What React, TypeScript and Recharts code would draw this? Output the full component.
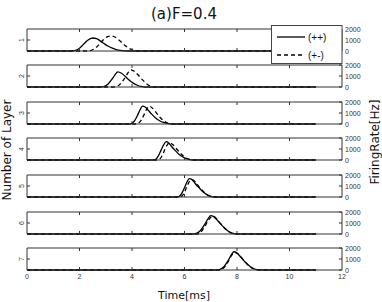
import { LineChart, Line, XAxis, YAxis } from 'recharts';

const layerNames = ['1', '2', '3', '4', '5', '6', '7'];
const timeTicks = [0, 2, 4, 6, 8, 10, 12];
const innerTimeTicks = [2, 4, 6, 8, 10];
const rateTicks = [0, 1000, 2000];
const layerTick = [1000];

// (++) solid curves
const ppTime = [
  [0, 1.7, 1.85, 2.0, 2.15, 2.3, 2.5, 2.65, 2.8, 2.95, 3.1, 3.25, 3.4, 3.55, 3.7, 3.85, 11],
  [0, 2.8, 2.95, 3.1, 3.25, 3.35, 3.46, 3.6, 3.75, 3.9, 4.05, 4.2, 4.35, 4.5, 11],
  [0, 3.9, 4.0, 4.1, 4.2, 4.3, 4.4, 4.5, 4.6, 4.75, 4.9, 5.05, 5.2, 5.35, 5.5, 11],
  [0, 4.8, 4.9, 5.0, 5.1, 5.2, 5.3, 5.4, 5.5, 5.65, 5.8, 5.95, 6.1, 6.25, 6.4, 11],
  [0, 5.7, 5.8, 5.9, 6.0, 6.1, 6.18, 6.3, 6.4, 6.55, 6.7, 6.85, 7.0, 7.15, 11],
  [0, 6.35, 6.45, 6.6, 6.75, 6.9, 7.0, 7.1, 7.25, 7.4, 7.55, 7.7, 7.85, 8.0, 11],
  [0, 7.25, 7.35, 7.5, 7.65, 7.8, 7.88, 8.0, 8.15, 8.3, 8.45, 8.6, 8.75, 8.9, 11],
];
const ppRate = [
  [0, 0, 60, 250, 600, 950, 1180, 1120, 900, 650, 430, 260, 130, 50, 10, 0, 0],
  [0, 0, 60, 300, 750, 1100, 1380, 1250, 950, 620, 350, 160, 50, 0, 0],
  [0, 0, 50, 300, 750, 1250, 1620, 1550, 1300, 900, 550, 300, 140, 50, 0, 0],
  [0, 0, 60, 350, 850, 1350, 1670, 1550, 1250, 850, 500, 250, 100, 20, 0, 0],
  [0, 0, 60, 350, 850, 1400, 1670, 1550, 1250, 850, 480, 220, 60, 0, 0],
  [0, 0, 50, 300, 800, 1400, 1670, 1600, 1250, 850, 480, 200, 50, 0, 0],
  [0, 0, 50, 300, 800, 1450, 1660, 1550, 1150, 750, 400, 160, 40, 0, 0],
];

// (+-) dashed curves
const pmTime = [
  [0, 2.3, 2.45, 2.6, 2.75, 2.9, 3.05, 3.2, 3.35, 3.5, 3.65, 3.8, 3.95, 4.1, 4.25, 11],
  [0, 3.3, 3.45, 3.6, 3.75, 3.85, 3.95, 4.1, 4.25, 4.4, 4.55, 4.7, 4.85, 11],
  [0, 4.15, 4.25, 4.35, 4.45, 4.55, 4.65, 4.75, 4.9, 5.05, 5.2, 5.35, 5.5, 11],
  [0, 4.95, 5.05, 5.15, 5.25, 5.35, 5.43, 5.55, 5.7, 5.85, 6.0, 6.15, 6.3, 11],
  [0, 5.8, 5.9, 6.0, 6.1, 6.2, 6.28, 6.4, 6.55, 6.7, 6.85, 7.0, 7.15, 11],
  [0, 6.5, 6.6, 6.75, 6.9, 7.05, 7.15, 7.3, 7.45, 7.6, 7.75, 7.9, 11],
  [0, 7.35, 7.5, 7.65, 7.8, 7.92, 8.05, 8.2, 8.35, 8.5, 8.65, 8.8, 11],
];
const pmRate = [
  [0, 0, 60, 250, 600, 1000, 1280, 1370, 1270, 1000, 680, 380, 160, 50, 0, 0],
  [0, 0, 80, 400, 900, 1300, 1550, 1400, 1050, 650, 300, 80, 0, 0],
  [0, 0, 80, 350, 800, 1300, 1620, 1500, 1100, 650, 300, 80, 0, 0],
  [0, 0, 80, 400, 950, 1400, 1580, 1400, 1000, 600, 280, 90, 0, 0],
  [0, 0, 80, 450, 1000, 1450, 1580, 1400, 950, 550, 230, 60, 0, 0],
  [0, 0, 120, 600, 1200, 1600, 1550, 1150, 750, 380, 130, 0, 0],
  [0, 0, 200, 700, 1350, 1580, 1450, 1050, 650, 300, 90, 0, 0],
];

const AXIS = '#333';
const TICK_FONT = '"Liberation Sans", Arial, sans-serif';
const LABEL_FONT = '"DejaVu Sans", Verdana, sans-serif';

const firstTop = 27.5;
const step = 36.63;
const plotH = 24;
const padT = 6;

const toPoints = (t: number[], r: number[]) => t.map((v, i) => ({ t: v, r: r[i] }));

const LeftTick = ({ x, y, label }: any) => (
  <g>
    <line x1={x} x2={x + 3} y1={y} y2={y} stroke={AXIS} />
    <text
      x={x - 3}
      y={y}
      transform={`rotate(-90 ${x - 3} ${y})`}
      textAnchor="middle"
      fontSize={7}
      fontFamily={TICK_FONT}
      fill="#333"
    >
      {label}
    </text>
  </g>
);

const RightTick = ({ x, y, payload }: any) => (
  <g>
    <line x1={x - 3} x2={x} y1={y} y2={y} stroke={AXIS} />
    <text x={x + 3} y={y + 2.5} fontSize={7} fontFamily={TICK_FONT} fill="#333">
      {payload.value}
    </text>
  </g>
);

const TopTick = ({ x, y }: any) => <line x1={x} x2={x} y1={y} y2={y + 3} stroke={AXIS} />;

const BottomTick = ({ x, y, payload, show }: any) => (
  <g>
    {payload.value > 0 && payload.value < 12 && (
      <line x1={x} x2={x} y1={y} y2={y - 3} stroke={AXIS} />
    )}
    {show && (
      <text x={x} y={y + 9} textAnchor="middle" fontSize={7} fontFamily={TICK_FONT} fill="#333">
        {payload.value}
      </text>
    )}
  </g>
);

function Panel({ i }: { i: number }) {
  const last = i === layerNames.length - 1;
  const padB = last ? 14 : 6;
  return (
    <div style={{ position: 'absolute', left: 0, top: firstTop + i * step - padT }}>
      <LineChart width={382} height={plotH + padT + padB} margin={{ top: padT, right: 0, bottom: padB, left: 0 }}>
        <XAxis
          xAxisId="b"
          type="number"
          dataKey="t"
          domain={[0, 12]}
          ticks={last ? timeTicks : innerTimeTicks}
          interval={0}
          height={1}
          tickSize={0}
          tickMargin={0}
          tickLine={false}
          axisLine={{ stroke: AXIS }}
          tick={<BottomTick show={last} />}
        />
        <XAxis
          xAxisId="t"
          orientation="top"
          type="number"
          dataKey="t"
          domain={[0, 12]}
          ticks={innerTimeTicks}
          interval={0}
          height={1}
          tickSize={0}
          tickMargin={0}
          tickLine={false}
          axisLine={{ stroke: AXIS }}
          tick={<TopTick />}
        />
        <YAxis
          yAxisId="l"
          type="number"
          domain={[0, 2000]}
          ticks={layerTick}
          interval={0}
          width={27}
          tickSize={0}
          tickMargin={0}
          tickLine={false}
          axisLine={{ stroke: AXIS }}
          tick={<LeftTick label={layerNames[i]} />}
        />
        <YAxis
          yAxisId="r"
          orientation="right"
          type="number"
          domain={[0, 2000]}
          ticks={rateTicks}
          interval={0}
          width={40}
          tickSize={0}
          tickMargin={0}
          tickLine={false}
          axisLine={{ stroke: AXIS }}
          tick={<RightTick />}
        />
        <Line
          xAxisId="t"
          yAxisId="l"
          data={toPoints(pmTime[i], pmRate[i])}
          dataKey="r"
          type="monotone"
          stroke="#000"
          strokeWidth={1.3}
          strokeDasharray="4 3"
          dot={false}
          isAnimationActive={false}
        />
        <Line
          xAxisId="b"
          yAxisId="r"
          data={toPoints(ppTime[i], ppRate[i])}
          dataKey="r"
          type="monotone"
          stroke="#000"
          strokeWidth={1.3}
          dot={false}
          isAnimationActive={false}
        />
      </LineChart>
    </div>
  );
}

export default function App() {
  return (
    <div style={{ position: 'absolute', left: 0, top: 0, width: 382, height: 302, background: '#fff', overflow: 'hidden' }}>
      {layerNames.map((_, i) => (
        <Panel key={i} i={i} />
      ))}
      <svg width={382} height={302} style={{ position: 'absolute', left: 0, top: 0, pointerEvents: 'none' }}>
        <text x={184} y={19} textAnchor="middle" fontSize={15} fontFamily={LABEL_FONT} fill="#111">
          (a)F=0.4
        </text>
        <text x={184} y={299} textAnchor="middle" fontSize={11} fontFamily={LABEL_FONT} fill="#111">
          Time[ms]
        </text>
        <text x={11} y={150} transform="rotate(-90 11 150)" textAnchor="middle" fontSize={12} fontFamily={LABEL_FONT} fill="#111">
          Number of Layer
        </text>
        <text x={379} y={142} transform="rotate(-90 379 142)" textAnchor="middle" fontSize={12} fontFamily={LABEL_FONT} fill="#111">
          FiringRate[Hz]
        </text>
        <rect x={271.5} y={25.5} width={70.5} height={38} fill="#fff" stroke="#444" />
        <line x1={277} x2={305} y1={37} y2={37} stroke="#000" strokeWidth={1.3} />
        <text x={308} y={40.5} fontSize={10} fontFamily={TICK_FONT} fill="#111">(++)</text>
        <line x1={277} x2={305} y1={55} y2={55} stroke="#000" strokeWidth={1.3} strokeDasharray="4 3" />
        <text x={308} y={58.5} fontSize={10} fontFamily={TICK_FONT} fill="#111">(+-)</text>
      </svg>
    </div>
  );
}
